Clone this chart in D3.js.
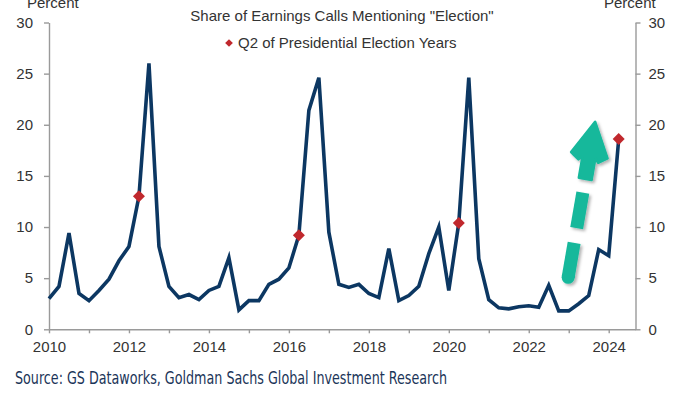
<!DOCTYPE html>
<html>
<head>
<meta charset="utf-8">
<script src="https://cdn.jsdelivr.net/npm/d3@7"></script>
<style>
body { margin: 0; background: #fff; }
svg { display: block; font-family: Arial, "Liberation Sans", sans-serif; }
.axis path, .axis line { stroke: #9a9a9a; stroke-width: 1.4; }
.axis text { font-size: 15px; fill: #333; font-family: Arial, "Liberation Sans", sans-serif; }
</style>
</head>
<body>
<div id="chart"></div>
<script>
// quarterly share of earnings calls mentioning "election", 2010Q1 .. 2024Q2
var startYear = 2010;
var share = [
    3.0, 4.2, 9.4, 3.5,
    2.8, 3.8, 4.9, 6.7,
    8.1, 13.0, 26.0, 8.1,
    4.2, 3.1, 3.4, 2.9,
    3.8, 4.2, 7.0, 1.9,
    2.8, 2.8, 4.4, 4.9,
    6.0, 9.2, 21.4, 24.6,
    9.5, 4.4, 4.1, 4.4,
    3.5, 3.1, 7.9, 2.8,
    3.3, 4.2, 7.4, 10.0,
    3.8, 10.4, 24.6, 6.9,
    2.9, 2.1, 2.0, 2.2,
    2.3, 2.15, 4.3, 1.8,
    1.8, 2.5, 3.3, 7.8,
    7.2, 18.6
];
var electionYears = [2012, 2016, 2020, 2024];
var yTicks = [0, 5, 10, 15, 20, 25, 30];
var xTicks = [2010, 2011, 2012, 2013, 2014, 2015, 2016, 2017, 2018, 2019, 2020, 2021, 2022, 2023, 2024];
var xLabels = [2010, 2012, 2014, 2016, 2018, 2020, 2022, 2024];
var title = 'Share of Earnings Calls Mentioning "Election"';
var legendLabel = "Q2 of Presidential Election Years";
var unitLabel = "Percent";
var source = "Source: GS Dataworks, Goldman Sachs Global Investment Research";

var width = 700, height = 394;
var plot = { left: 49, right: 635.5, top: 22.5, bottom: 329.3 };

var data = share.map(function(v, i) {
    return { t: startYear + i * 0.25, q: i % 4 + 1, year: startYear + Math.floor(i / 4), v: v };
});
var marks = data.filter(function(d) {
    return d.q === 2 && electionYears.indexOf(d.year) >= 0;
});

var x = d3.scaleLinear().domain([2010, 2024.67]).range([plot.left, plot.right]);
var y = d3.scaleLinear().domain([0, 30]).range([plot.bottom, plot.top]);

var svg = d3.select("#chart")
    .append("svg")
    .attr("width", width)
    .attr("height", height);

// axes
svg.append("g")
    .attr("class", "axis")
    .attr("transform", "translate(" + plot.left + ",0)")
    .call(d3.axisLeft(y).tickValues(yTicks).tickSize(5).tickSizeOuter(0).tickPadding(11));

svg.append("g")
    .attr("class", "axis")
    .attr("transform", "translate(" + plot.right + ",0)")
    .call(d3.axisRight(y).tickValues(yTicks).tickSize(5).tickSizeOuter(0).tickPadding(8));

svg.append("g")
    .attr("class", "axis")
    .attr("transform", "translate(0," + plot.bottom + ")")
    .call(d3.axisBottom(x).tickValues(xTicks).tickSize(4).tickSizeOuter(0).tickPadding(8.5)
        .tickFormat(function(d) { return xLabels.indexOf(d) >= 0 ? d : ""; }));

// unit labels (cut at the top edge, as in the original)
svg.append("text").attr("x", 27).attr("y", 8)
    .style("font-size", "15px").style("fill", "#333").text(unitLabel);
svg.append("text").attr("x", 604).attr("y", 8)
    .style("font-size", "15px").style("fill", "#333").text(unitLabel);

// title + legend
svg.append("text")
    .attr("x", 342).attr("y", 21)
    .attr("text-anchor", "middle")
    .style("font-size", "15px").style("fill", "#333")
    .text(title);

svg.append("path")
    .attr("d", d3.symbol().type(d3.symbolSquare).size(30)())
    .attr("transform", "translate(229,43) rotate(45)")
    .style("fill", "#c0282d");
svg.append("text")
    .attr("x", 238).attr("y", 48)
    .style("font-size", "15px").style("fill", "#333")
    .text(legendLabel);

// the series
var line = d3.line()
    .x(function(d) { return x(d.t); })
    .y(function(d) { return y(d.v); });

svg.append("path")
    .datum(data)
    .attr("d", line)
    .style("fill", "none")
    .style("stroke", "#0c3762")
    .style("stroke-width", 3.6)
    .style("stroke-linejoin", "miter");

svg.selectAll(".mark").data(marks).enter()
    .append("path")
    .attr("class", "mark")
    .attr("d", d3.symbol().type(d3.symbolSquare).size(72)())
    .attr("transform", function(d) {
        return "translate(" + x(d.t) + "," + y(d.v) + ") rotate(45)";
    })
    .style("fill", "#c0282d");

// green dashed arrow annotation
var defs = svg.append("defs");
var f = defs.append("filter").attr("id", "shadow")
    .attr("x", "-30%").attr("y", "-30%").attr("width", "160%").attr("height", "160%");
f.append("feDropShadow")
    .attr("dx", 2).attr("dy", 2).attr("stdDeviation", 1.5)
    .attr("flood-color", "#000").attr("flood-opacity", 0.3);

var a0 = [x(2022.96), y(4.5)], a1 = [x(2023.66), y(20.3)];
var dx = a1[0] - a0[0], dy = a1[1] - a0[1];
var len = Math.sqrt(dx * dx + dy * dy);
var u = [dx / len, dy / len], n = [-u[1], u[0]];
function pt(s, o) { return [a0[0] + u[0] * s + n[0] * o, a0[1] + u[1] * s + n[1] * o]; }
function poly(list) {
    return "M" + list.map(function(p) { return pt(p[0], p[1]).join(","); }).join("L") + "Z";
}

var teal = "#14b89b", hw = 6.5;
var arrow = svg.append("g").attr("filter", "url(#shadow)").style("fill", teal);

// dashes of the shaft
[[6, 41], [56, 92]].forEach(function(s) {
    arrow.append("path").attr("d", poly([[s[0], -hw], [s[1], -hw], [s[1], hw], [s[0], hw]]));
});
var b = pt(6, 0);
arrow.append("circle").attr("cx", b[0]).attr("cy", b[1]).attr("r", hw);

// head with the last piece of shaft
arrow.append("path")
    .attr("d", poly([
        [len, 0], [130, 18.5], [124, 10], [128, hw], [106, hw],
        [106, -hw], [128, -hw], [124, -10], [130, -18.5]
    ]))
    .style("stroke", teal)
    .style("stroke-width", 2.5)
    .style("stroke-linejoin", "round");

// source
svg.append("text")
    .attr("x", 15).attr("y", 384)
    .attr("textLength", 432)
    .attr("lengthAdjust", "spacingAndGlyphs")
    .style("font-family", "'Liberation Sans Narrow', 'DejaVu Sans Condensed', Arial, sans-serif")
    .style("font-size", "17px")
    .style("fill", "#1b3559")
    .text(source);
</script>
</body>
</html>
